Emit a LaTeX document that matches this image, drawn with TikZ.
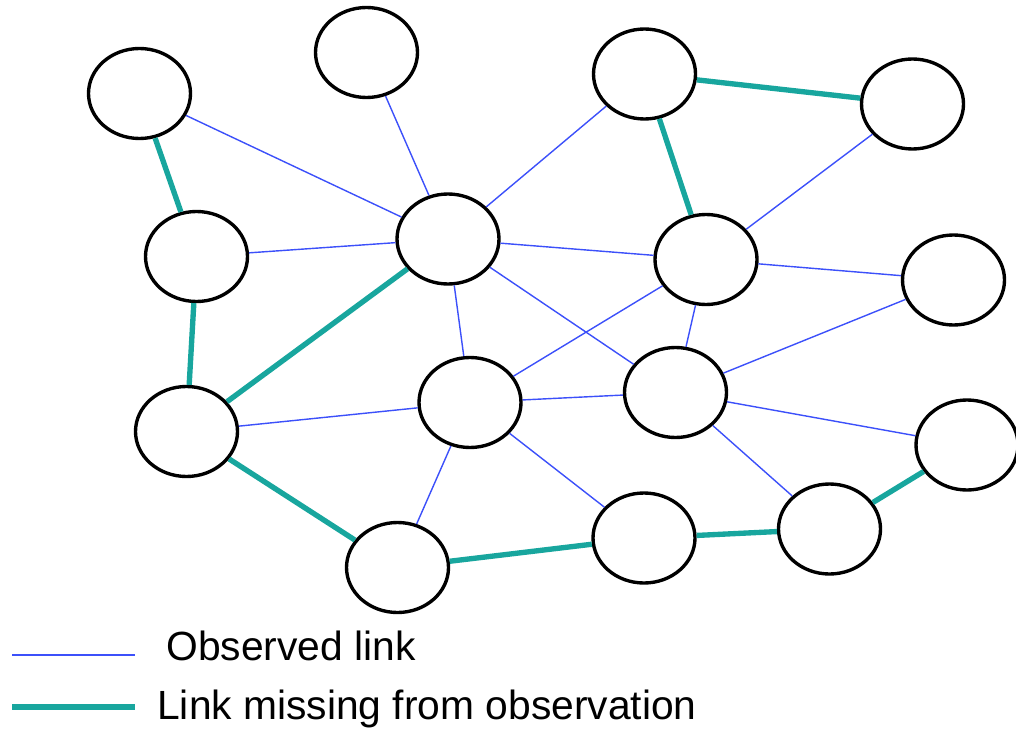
\documentclass[tikz,border=0pt]{standalone}
\usepackage{fontspec}
\setmainfont{Liberation Sans}
\usetikzlibrary{shapes.geometric}

\definecolor{obsblue}{RGB}{60,80,250}
\definecolor{missteal}{RGB}{24,166,158}

\newcommand{\unitpx}{*0.025cm}
\tikzset{
  vertex/.style={ellipse, draw=black, line width=2.4pt, fill=white,
                 minimum width=102\unitpx, minimum height=90\unitpx, inner sep=0pt},
  observed/.style={draw=obsblue, line width=1.0pt},
  missing/.style={draw=missteal, line width=3.8pt},
  legendtext/.style={font=\fontsize{29}{34}\selectfont, inner sep=0pt, anchor=base west}
}

\begin{document}
\begin{tikzpicture}[x=0.025cm, y=-0.025cm]
  \useasboundingbox (0,0) rectangle (1016,728);

  % vertices
  \node[vertex] (a) at (139.5, 93.5) {};
  \node[vertex] (b) at (366.5, 52.5) {};
  \node[vertex] (c) at (644.5, 74) {};
  \node[vertex] (d) at (912.5, 104) {};
  \node[vertex] (e) at (196.5, 256.5) {};
  \node[vertex] (f) at (448, 239) {};
  \node[vertex] (g) at (706, 259.5) {};
  \node[vertex] (h) at (953.5, 280) {};
  \node[vertex] (i) at (186.5, 431.5) {};
  \node[vertex] (j) at (470, 402.5) {};
  \node[vertex] (k) at (675.5, 392.5) {};
  \node[vertex] (l) at (967, 445) {};
  \node[vertex] (m) at (397.5, 567.5) {};
  \node[vertex] (n) at (644, 538) {};
  \node[vertex] (o) at (829.5, 529) {};

  % observed links
  \path[observed] (a) -- (f);
  \path[observed] (b) -- (f);
  \path[observed] (c) -- (f);
  \path[observed] (d) -- (g);
  \path[observed] (e) -- (f);
  \path[observed] (f) -- (g);
  \path[observed] (f) -- (j);
  \path[observed] (f) -- (k);
  \path[observed] (g) -- (h);
  \path[observed] (g) -- (j);
  \path[observed] (g) -- (k);
  \path[observed] (h) -- (k);
  \path[observed] (i) -- (j);
  \path[observed] (j) -- (k);
  \path[observed] (j) -- (m);
  \path[observed] (j) -- (n);
  \path[observed] (k) -- (l);
  \path[observed] (k) -- (o);

  % links missing from observation
  \path[missing] (a) -- (e);
  \path[missing] (c) -- (g);
  \path[missing] (c) -- (d);
  \path[missing] (e) -- (i);
  \path[missing] (i) -- (f);
  \path[missing] (i) -- (m);
  \path[missing] (m) -- (n);
  \path[missing] (n) -- (o);
  \path[missing] (o) -- (l);

  % legend
  \coordinate (lb1) at (12, 655);
  \coordinate (lb2) at (135, 655);
  \coordinate (lt1) at (12, 707);
  \coordinate (lt2) at (135, 707);
  \path[observed] (lb1) -- (lb2);
  \path[missing] (lt1) -- (lt2);
  \node[legendtext] (obs) at (166, 660) {Observed link};
  \node[legendtext] (mis) at (157, 719) {Link missing from observation};
\end{tikzpicture}
\end{document}
